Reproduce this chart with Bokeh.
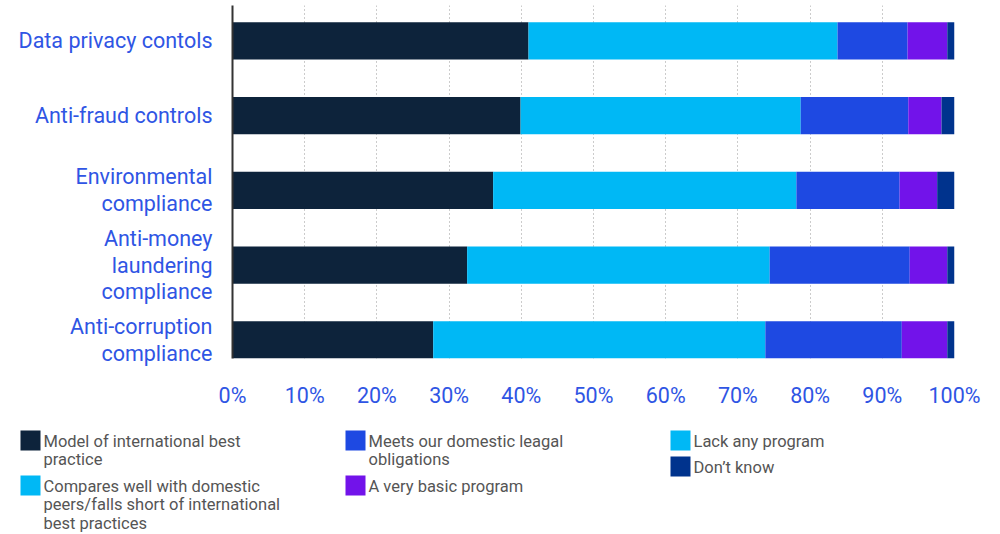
import textwrap
from bokeh.plotting import figure
from bokeh.layouts import column
from bokeh.models import Range1d, FixedTicker, PrintfTickFormatter, ColumnDataSource
from bokeh.core.properties import value
from bokeh.embed import file_html
from bokeh.resources import INLINE

# ---------------- data ----------------
categories = [
    "Data privacy contols",
    "Anti-fraud controls",
    "Environmental compliance",
    "Anti-money laundering compliance",
    "Anti-corruption compliance",
]
series_names = [
    "Model of international best practice",
    "Compares well with domestic peers/falls short of international best practices",
    "Meets our domestic leagal obligations",
    "A very basic program",
    "Lack any program",
    "Don\u2019t know",
]
model_best = [41.0, 39.9, 36.1, 32.5, 27.8]
compares_well = [42.8, 38.8, 42.0, 41.9, 46.0]
meets_domestic = [9.7, 14.9, 14.3, 19.4, 18.9]
very_basic = [5.5, 4.6, 5.2, 5.2, 6.3]
lack_program = [0.0, 0.0, 0.0, 0.0, 0.0]
dont_know = [1.0, 1.8, 2.4, 1.0, 1.0]
x_ticks = [0, 10, 20, 30, 40, 50, 60, 70, 80, 90, 100]

# ---------------- style ----------------
colors = ["#0d233b", "#00b8f5", "#1e49e2", "#7213ea", "#00b8f5", "#00338d"]
label_blue = "#2f55e4"
FONT = "Roboto"

keys = ["model", "compares", "meets", "basic", "lack", "dk"]
src = ColumnDataSource(dict(
    y=list(range(len(categories))),
    model=model_best, compares=compares_well, meets=meets_domestic,
    basic=very_basic, lack=lack_program, dk=dont_know,
))

p = figure(width=1000, height=410, output_backend="svg", toolbar_location=None,
           x_range=Range1d(0, 100), y_range=Range1d(4.25, -0.474),
           min_border_left=232, min_border_right=46, min_border_top=5,
           min_border_bottom=46)
p.frame_align = False
p.outline_line_color = None
p.hbar_stack(keys, y="y", height=0.5, color=colors, line_color=None, source=src)

p.xaxis.ticker = FixedTicker(ticks=x_ticks)
p.xaxis.formatter = PrintfTickFormatter(format="%d%%")
p.xaxis.axis_line_color = None
p.xaxis.major_tick_line_color = None
p.xaxis.minor_tick_line_color = None
p.xaxis.major_label_text_font = FONT
p.xaxis.major_label_text_font_size = "21.5px"
p.xaxis.major_label_text_color = label_blue
p.xaxis.major_label_standoff = 18

p.yaxis.ticker = FixedTicker(ticks=list(range(len(categories))))
p.yaxis.major_label_overrides = {i: textwrap.fill(c, 20) for i, c in enumerate(categories)}
p.yaxis.axis_line_color = "#333333"
p.yaxis.axis_line_width = 2
p.yaxis.major_tick_line_color = None
p.yaxis.minor_tick_line_color = None
p.yaxis.major_label_text_font = FONT
p.yaxis.major_label_text_font_size = "21.5px"
p.yaxis.major_label_text_color = label_blue
p.yaxis.major_label_text_line_height = 1.07
p.yaxis.major_label_standoff = 14

p.ygrid.grid_line_color = None
p.xgrid.ticker = FixedTicker(ticks=x_ticks[1:])
p.xgrid.grid_line_color = "#999999"
p.xgrid.grid_line_dash = "1 3"
p.xgrid.grid_line_width = 1

# ---------------- legend panel ----------------
leg = figure(width=1000, height=124, output_backend="svg", toolbar_location=None,
             x_range=Range1d(0, 1000), y_range=Range1d(534, 410),
             min_border=0)
leg.frame_align = False
leg.outline_line_color = None
leg.axis.visible = False
leg.grid.visible = False

# legend layout (screen slots: left x, top y)
slots = [(20, 430), (20, 475), (345, 430), (345, 475), (670, 430), (670, 456)]
sw = 20
lx = [s[0] + sw / 2 for s in slots]
ly = [s[1] + sw / 2 for s in slots]
tx = [s[0] + sw + 3 for s in slots]
ty = [s[1] + 1 for s in slots]
leg.rect(x=lx, y=ly, width=sw, height=sw, color=colors, line_color=None)
leg.text(x=tx, y=ty, text=[textwrap.fill(n, 34) for n in series_names],
         text_font=value(FONT), text_font_size="16.5px", text_color="#555555",
         text_baseline="top", text_align="left", text_line_height=0.98)

layout = column(p, leg, spacing=0)
open("out.html", "w").write(file_html(layout, INLINE))
